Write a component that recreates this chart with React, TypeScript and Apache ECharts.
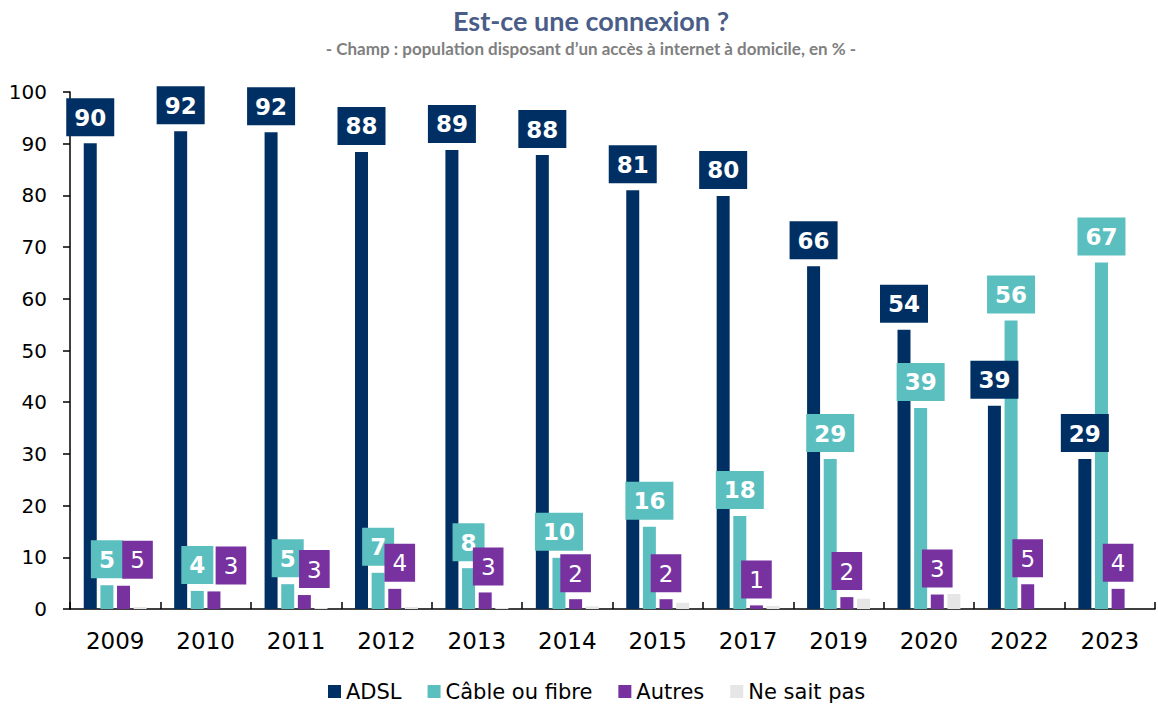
import React, { useEffect, useRef } from "react";
import * as echarts from "echarts";

const years = ["2009", "2010", "2011", "2012", "2013", "2014", "2015", "2017", "2019", "2020", "2022", "2023"];
const adsl = [90.1, 92.4, 92.2, 88.4, 88.8, 87.8, 81.0, 79.9, 66.3, 54.0, 39.3, 29.0];
const cable = [4.6, 3.5, 4.8, 7.0, 7.9, 9.9, 15.9, 18.0, 29.0, 38.9, 55.8, 67.0];
const autres = [4.5, 3.4, 2.7, 3.9, 3.2, 1.9, 1.9, 0.7, 2.3, 2.8, 4.8, 3.9];
const nsp = [0.4, 0, 0.2, 0.4, 0.2, 0.5, 1.2, 0.6, 2.0, 2.9, 0, 0];

// horizontal nudges of the "Autres" labels (as placed in the reference)
const autresLabelDx = [14, 17, 10, 5, 3, 0, 0, 0, 0, 0, 0, 0];

const C_ADSL = "#003063";
const C_CABLE = "#5CBFBF";
const C_AUTRES = "#7732A0";
const C_NSP = "#E6E6E6";
const FONT = "DejaVu Sans";

const boxLabel = (bg: string, bold: boolean) => ({
  show: true,
  position: "top" as const,
  distance: 7,
  backgroundColor: bg,
  color: "#FFFFFF",
  fontFamily: FONT,
  fontWeight: bold ? "bold" : "normal",
  fontSize: 23,
  lineHeight: 23,
  padding: [8, 8, 7, 8],
  formatter: (p: any) => String(Math.round(p.value)),
});

export default function App() {
  const ref = useRef<HTMLDivElement>(null);
  useEffect(() => {
    document.body.style.margin = "0";
    const chart = echarts.init(ref.current!, null, { renderer: "svg" });
    const barW = 13;
    chart.setOption({
      animation: false,
      backgroundColor: "#FFFFFF",
      title: {
        text: "Est-ce une connexion ?",
        subtext: "- Champ : population disposant d\u2019un acc\u00e8s \u00e0 internet \u00e0 domicile, en % -",
        left: 586,
        textAlign: "center",
        top: 2,
        itemGap: 6,
        textStyle: { fontFamily: "Lato", fontWeight: "bold", fontSize: 27, color: "#4A5D87" },
        subtextStyle: { fontFamily: "Lato", fontWeight: "bold", fontSize: 17, color: "#7F7F7F" },
      },
      legend: {
        bottom: 2,
        left: 323,
        icon: "rect",
        itemWidth: 13,
        itemHeight: 13,
        itemGap: 26,
        textStyle: { fontFamily: FONT, fontSize: 21, color: "#000000" },
        data: ["ADSL", "C\u00e2ble ou fibre", "Autres", "Ne sait pas"],
      },
      grid: { left: 70, right: 3, top: 92, bottom: 100, containLabel: false },
      xAxis: {
        type: "category",
        data: years,
        axisLine: { show: true, lineStyle: { color: "#000000", width: 1.5 } },
        axisTick: { show: true, inside: true, length: 7, lineStyle: { color: "#000000", width: 1.5 } },
        axisLabel: { fontFamily: FONT, fontSize: 23, color: "#000000", margin: 20 },
      },
      yAxis: {
        type: "value",
        min: 0,
        max: 100,
        interval: 10,
        splitLine: { show: false },
        axisLine: { show: true, lineStyle: { color: "#000000", width: 1.5 } },
        axisTick: { show: true, length: 7, lineStyle: { color: "#000000", width: 1.5 } },
        axisLabel: { fontFamily: FONT, fontSize: 20, color: "#000000", margin: 23 },
      },
      series: [
        {
          name: "ADSL",
          type: "bar",
          data: adsl,
          barWidth: barW,
          barGap: "28%",
          itemStyle: { color: C_ADSL },
          label: boxLabel(C_ADSL, true),
        },
        {
          name: "C\u00e2ble ou fibre",
          type: "bar",
          data: cable,
          barWidth: barW,
          barGap: "28%",
          itemStyle: { color: C_CABLE },
          label: boxLabel(C_CABLE, true),
        },
        {
          name: "Autres",
          type: "bar",
          data: autres.map((v, i) => ({
            value: v,
            label: { offset: [autresLabelDx[i], 0] },
          })),
          barWidth: barW,
          barGap: "28%",
          itemStyle: { color: C_AUTRES },
          label: boxLabel(C_AUTRES, false),
        },
        {
          name: "Ne sait pas",
          type: "bar",
          data: nsp,
          barWidth: barW,
          barGap: "28%",
          itemStyle: { color: C_NSP },
          label: { show: false },
        },
      ],
    });
    return () => chart.dispose();
  }, []);
  return <div ref={ref} style={{ width: 1158, height: 709 }} />;
}
